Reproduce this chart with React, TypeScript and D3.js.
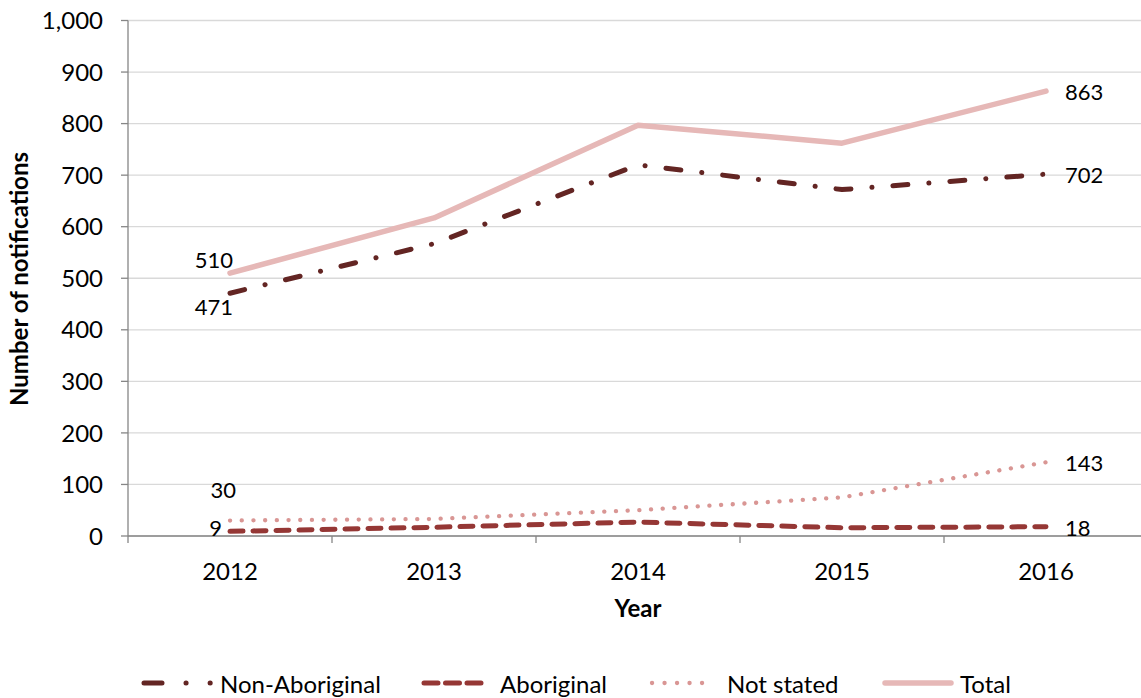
import React from "react";
import * as d3 from "d3";

const years = ["2012", "2013", "2014", "2015", "2016"];
const nonAboriginal = [471, 567, 720, 672, 702];
const aboriginal = [9, 17, 27, 16, 18];
const notStated = [30, 33, 50, 75, 143];
const total = [510, 617, 797, 762, 863];
const yTicks = [0, 100, 200, 300, 400, 500, 600, 700, 800, 900, 1000];

const W = 1141;
const H = 698;
const FONT = "Lato, 'Open Sans', sans-serif";

type Series = {
  name: string;
  values: number[];
  color: string;
  width: number;
  dash: string;
  legendDash: string;
};

const series: Series[] = [
  { name: "Non-Aboriginal", values: nonAboriginal, color: "#632523", width: 5, dash: "15 21 0.1 21", legendDash: "18 24 0.1 24 0.1 200" },
  { name: "Aboriginal", values: aboriginal, color: "#953735", width: 5, dash: "13 10", legendDash: "14 7.5" },
  { name: "Not stated", values: notStated, color: "#d99694", width: 4.3, dash: "0.1 11.6", legendDash: "0.1 12.4" },
  { name: "Total", values: total, color: "#e6b8b7", width: 5.5, dash: "", legendDash: "" },
];

export default function App() {
  const left = 128;
  const bandW = 204;
  const x = d3.scaleBand<string>().domain(years).range([left, left + bandW * years.length]);
  const y = d3.scaleLinear().domain([0, 1000]).range([536, 20.5]);
  const cx = (i: number) => (x(years[i]) as number) + x.bandwidth() / 2;
  const line = (vals: number[]) =>
    d3.line<number>().x((_, i) => cx(i)).y((d) => y(d))(vals) as string;

  const legendItems = [
    { s: series[0], x1: 144, x2: 211, tx: 220 },
    { s: series[1], x1: 424, x2: 481, tx: 500 },
    { s: series[2], x1: 652, x2: 714.2, tx: 727 },
    { s: series[3], x1: 885, x2: 951, tx: 960 },
  ];

  const boundaries = d3.range(years.length + 1).map((i) => left + i * bandW);
  const LBL = 22;

  return (
    <svg width={W} height={H} style={{ position: "absolute", left: 0, top: 0, background: "#fff" }}>
      {/* gridlines */}
      {yTicks.map((t) => (
        <line key={t} x1={left} x2={W} y1={y(t)} y2={y(t)} stroke="#d9d9d9" strokeWidth={1.3} />
      ))}
      {/* y axis */}
      <line x1={left} x2={left} y1={y(1000)} y2={y(0)} stroke="#868686" strokeWidth={1.3} />
      {yTicks.map((t) => (
        <g key={"yt" + t}>
          <line x1={left - 7} x2={left} y1={y(t)} y2={y(t)} stroke="#868686" strokeWidth={1.3} />
          <text x={103} y={y(t)} dy="0.36em" textAnchor="end" fontFamily={FONT} fontSize={24} fill="#000">
            {d3.format(",")(t)}
          </text>
        </g>
      ))}
      {/* x axis */}
      <line x1={left} x2={W} y1={y(0)} y2={y(0)} stroke="#868686" strokeWidth={1.3} />
      {boundaries.map((b) => (
        <line key={"xb" + b} x1={b} x2={b} y1={y(0)} y2={y(0) + 7} stroke="#868686" strokeWidth={1.3} />
      ))}
      {years.map((yr, i) => (
        <text key={yr} x={cx(i)} y={580} textAnchor="middle" fontFamily={FONT} fontSize={24} fill="#000">
          {yr}
        </text>
      ))}
      <text x={cx(2)} y={617} textAnchor="middle" fontFamily={FONT} fontSize={24} fontWeight="bold" fill="#000">
        Year
      </text>
      <text
        transform={`translate(28,${279}) rotate(-90)`}
        textAnchor="middle"
        fontFamily={FONT}
        fontSize={24}
        fontWeight="bold"
        fill="#000"
      >
        Number of notifications
      </text>

      {/* lines */}
      {series.map((s) => (
        <path
          key={s.name}
          d={line(s.values)}
          fill="none"
          stroke={s.color}
          strokeWidth={s.width}
          strokeDasharray={s.dash || undefined}
          strokeLinecap="round"
          strokeLinejoin="round"
        />
      ))}

      {/* data labels */}
      <text x={cx(0) + 3} y={268} textAnchor="end" fontFamily={FONT} fontSize={LBL} fill="#000">{total[0]}</text>
      <text x={cx(0) + 3} y={315} textAnchor="end" fontFamily={FONT} fontSize={LBL} fill="#000">{nonAboriginal[0]}</text>
      <text x={cx(0) + 6} y={y(notStated[0]) - 30} dy="0.36em" textAnchor="end" fontFamily={FONT} fontSize={LBL} fill="#000">{notStated[0]}</text>
      <text x={cx(0) - 8} y={y(aboriginal[0]) - 3} dy="0.36em" textAnchor="end" fontFamily={FONT} fontSize={LBL} fill="#000">{aboriginal[0]}</text>
      <text x={cx(4) + 19} y={y(total[4]) + 1} dy="0.36em" fontFamily={FONT} fontSize={LBL} fill="#000">{total[4]}</text>
      <text x={cx(4) + 19} y={y(nonAboriginal[4]) + 1} dy="0.36em" fontFamily={FONT} fontSize={LBL} fill="#000">{nonAboriginal[4]}</text>
      <text x={cx(4) + 19} y={y(notStated[4]) + 1} dy="0.36em" fontFamily={FONT} fontSize={LBL} fill="#000">{notStated[4]}</text>
      <text x={cx(4) + 19} y={y(aboriginal[4]) + 1} dy="0.36em" fontFamily={FONT} fontSize={LBL} fill="#000">{aboriginal[4]}</text>

      {/* legend */}
      {legendItems.map(({ s, x1, x2, tx }) => (
        <g key={"lg" + s.name}>
          <line
            x1={x1}
            x2={x2}
            y1={683}
            y2={683}
            stroke={s.color}
            strokeWidth={s.width}
            strokeDasharray={s.legendDash || undefined}
            strokeLinecap="round"
          />
          <text x={tx} y={684} dy="0.36em" fontFamily={FONT} fontSize={24} fill="#000">
            {s.name}
          </text>
        </g>
      ))}
    </svg>
  );
}
